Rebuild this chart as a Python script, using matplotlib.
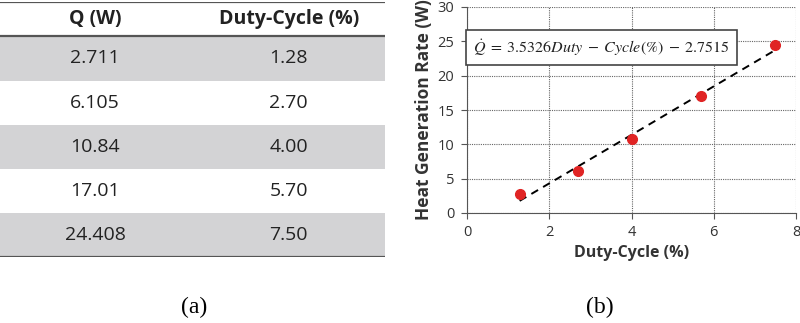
import numpy as np
import matplotlib.pyplot as plt
from matplotlib.patches import Rectangle

# table values / scatter points
heat_w = [2.711, 6.105, 10.84, 17.01, 24.408]
duty_pct = [1.28, 2.70, 4.00, 5.70, 7.50]
q_labels = ['2.711', '6.105', '10.84', '17.01', '24.408']
duty_labels = ['1.28', '2.70', '4.00', '5.70', '7.50']
headers = ['Q (W)', 'Duty-Cycle (%)']

# linear fit shown on the chart
slope, intercept = 3.5326, -2.7515

plt.rcParams['font.family'] = ['Open Sans', 'DejaVu Sans']
plt.rcParams['mathtext.fontset'] = 'stix'

fig = plt.figure(figsize=(8, 3.23), dpi=100)
W, H = 800, 323

# ---- (a) table ----
tab = fig.add_axes([0, (H - 257) / H, 385 / W, 255 / H])
n = len(heat_w)
hdr = 0.78
tab.set_xlim(0, 1)
tab.set_ylim(hdr + n, 0)
tab.axis('off')
for i in range(n):
    y0 = hdr + i
    if i % 2 == 0:
        tab.add_patch(Rectangle((0, y0), 1, 1, color='#d3d3d5', lw=0))
    tab.text(0.247, y0 + 0.5, q_labels[i], ha='center', va='center',
             fontsize=14, color='#222222')
    tab.text(0.75, y0 + 0.5, duty_labels[i], ha='center', va='center',
             fontsize=14, color='#222222')
tab.text(0.247, hdr / 2, headers[0], ha='center', va='center',
         fontsize=14, fontweight='bold', color='#222222')
tab.text(0.75, hdr / 2, headers[1], ha='center', va='center',
         fontsize=14, fontweight='bold', color='#222222')
for yy in [0, hdr, hdr + n]:
    tab.axhline(yy, color='#555555', lw=1.6)
fig.text(194 / W, 1 - 307 / H, '(a)', ha='center', va='center',
         family='Liberation Serif', fontsize=17)

# ---- (b) scatter with fit ----
ax = fig.add_axes([467 / W, (H - 213) / H, 329 / W, 206 / H])
xfit = np.array([min(duty_pct), max(duty_pct)])
ax.plot(xfit, slope * xfit + intercept, color='black', lw=1.4,
        ls=(0, (4, 3)), zorder=3)
ax.plot(duty_pct, heat_w, 'o', color='#e02424', ms=7, zorder=4)
ax.set_xlim(0, 8)
ax.set_ylim(0, 30)
ax.set_xticks([0, 2, 4, 6, 8])
ax.set_yticks([0, 5, 10, 15, 20, 25, 30])
ax.grid(True, color='#666666', ls=(0, (1, 1)), lw=0.8)
ax.set_axisbelow(True)
for s in ['top', 'right']:
    ax.spines[s].set_visible(False)
for s in ['left', 'bottom']:
    ax.spines[s].set_color('#555555')
ax.tick_params(colors='#555555', labelcolor='#333333', labelsize=10.5,
               length=4, pad=5)
ax.set_xlabel('Duty-Cycle (%)', fontsize=11.5, fontweight='bold',
              color='#333333', labelpad=3)
ax.set_ylabel('Heat Generation Rate (W)', fontsize=12.5, fontweight='bold',
              color='#333333', labelpad=3)
ax.text(3.27, 24.1,
        r'$\dot{Q}\;=\;3.5326Duty\;-\;Cycle(\%)\;-\;2.7515$',
        ha='center', va='center', fontsize=11.5, color='#222222',
        bbox=dict(boxstyle='square,pad=0.45', fc='white', ec='#444444',
                  lw=1.2))
fig.text(600 / W, 1 - 307 / H, '(b)', ha='center', va='center',
         family='Liberation Serif', fontsize=17)

fig.savefig('out.png', dpi=100)
